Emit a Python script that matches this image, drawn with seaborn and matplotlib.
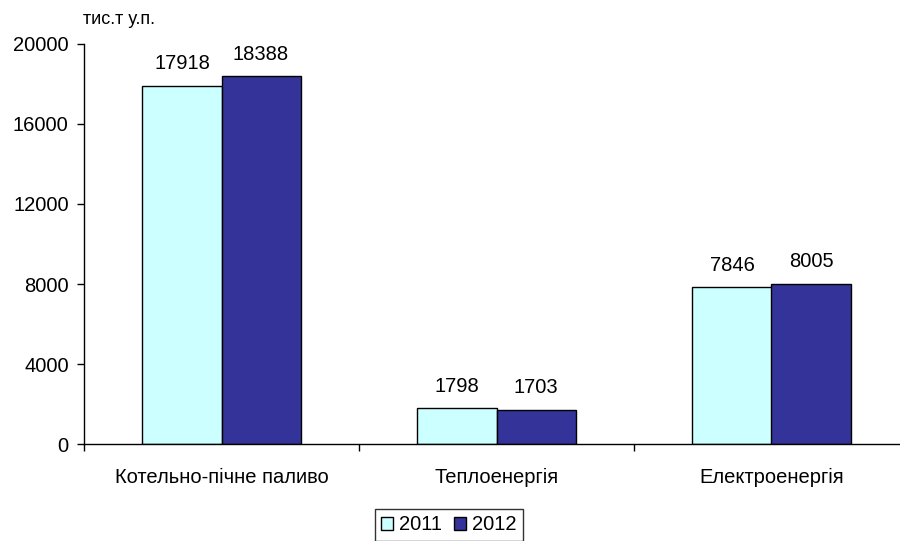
import matplotlib
matplotlib.use("Agg")
import matplotlib.pyplot as plt
import seaborn as sns
import pandas as pd
from matplotlib.ticker import FixedLocator

categories = ["Котельно-пічне паливо", "Теплоенергія", "Електроенергія"]
years = ["2011", "2012"]
values_2011 = [17918, 1798, 7846]
values_2012 = [18388, 1703, 8005]
y_ticks = [0, 4000, 8000, 12000, 16000, 20000]
unit_label = "тис.т у.п."

sns.set_theme(style="white", rc={"text.color": "black", "xtick.color": "black",
                                 "ytick.color": "black", "axes.labelcolor": "black"})
plt.rcParams["font.family"] = ["Liberation Sans", "DejaVu Sans"]

df = pd.DataFrame({
    "cat": categories * 2,
    "year": [years[0]] * 3 + [years[1]] * 3,
    "val": values_2011 + values_2012,
})

FS = 14.5

fig = plt.figure(figsize=(9, 5.41), dpi=100)
ax = fig.add_axes([84 / 900, 97 / 541, 825 / 900, 400 / 541])

sns.barplot(data=df, x="cat", y="val", hue="year", order=categories, hue_order=years,
            palette=["#CCFFFF", "#333399"], saturation=1, edgecolor="black", linewidth=1.0,
            width=0.575, gap=0, ax=ax, legend=True)

for c in ax.containers:
    ax.bar_label(c, fmt="%d", padding=9, fontsize=FS, color="black")

ax.set_xlim(-0.5, 2.5)
ax.set_ylim(0, 20000)
ax.set_yticks(y_ticks)
ax.set_yticklabels([str(v) for v in y_ticks], fontsize=FS)
ax.set_xlabel("")
ax.set_ylabel("")
ax.tick_params(axis="x", which="major", length=0, pad=17, labelsize=FS, labelcolor="black")
ax.xaxis.set_minor_locator(FixedLocator([-0.5, 0.5, 1.5, 2.5]))
ax.tick_params(axis="x", which="minor", length=5, width=1, color="black", direction="out", bottom=True)
ax.tick_params(axis="y", length=5, width=1, color="black", labelcolor="black",
               direction="out", left=True, pad=6)
for s in ["top", "right"]:
    ax.spines[s].set_visible(False)
for s in ["left", "bottom"]:
    ax.spines[s].set_color("black")
    ax.spines[s].set_linewidth(1)

fig.text(83 / 900, 1 - 20 / 541, unit_label, fontsize=13, va="center", ha="left", color="black")

leg = ax.legend(loc="center", bbox_to_anchor=(449 / 900, 1 - 525 / 541),
                bbox_transform=fig.transFigure, ncol=2, frameon=True, fancybox=False,
                handlelength=0.6, handleheight=0.6, handletextpad=0.3, columnspacing=0.6,
                borderpad=0.3, fontsize=FS, edgecolor="black")
leg.get_frame().set_linewidth(1)
for t in leg.get_texts():
    t.set_color("black")

fig.savefig("out.png", dpi=100)
